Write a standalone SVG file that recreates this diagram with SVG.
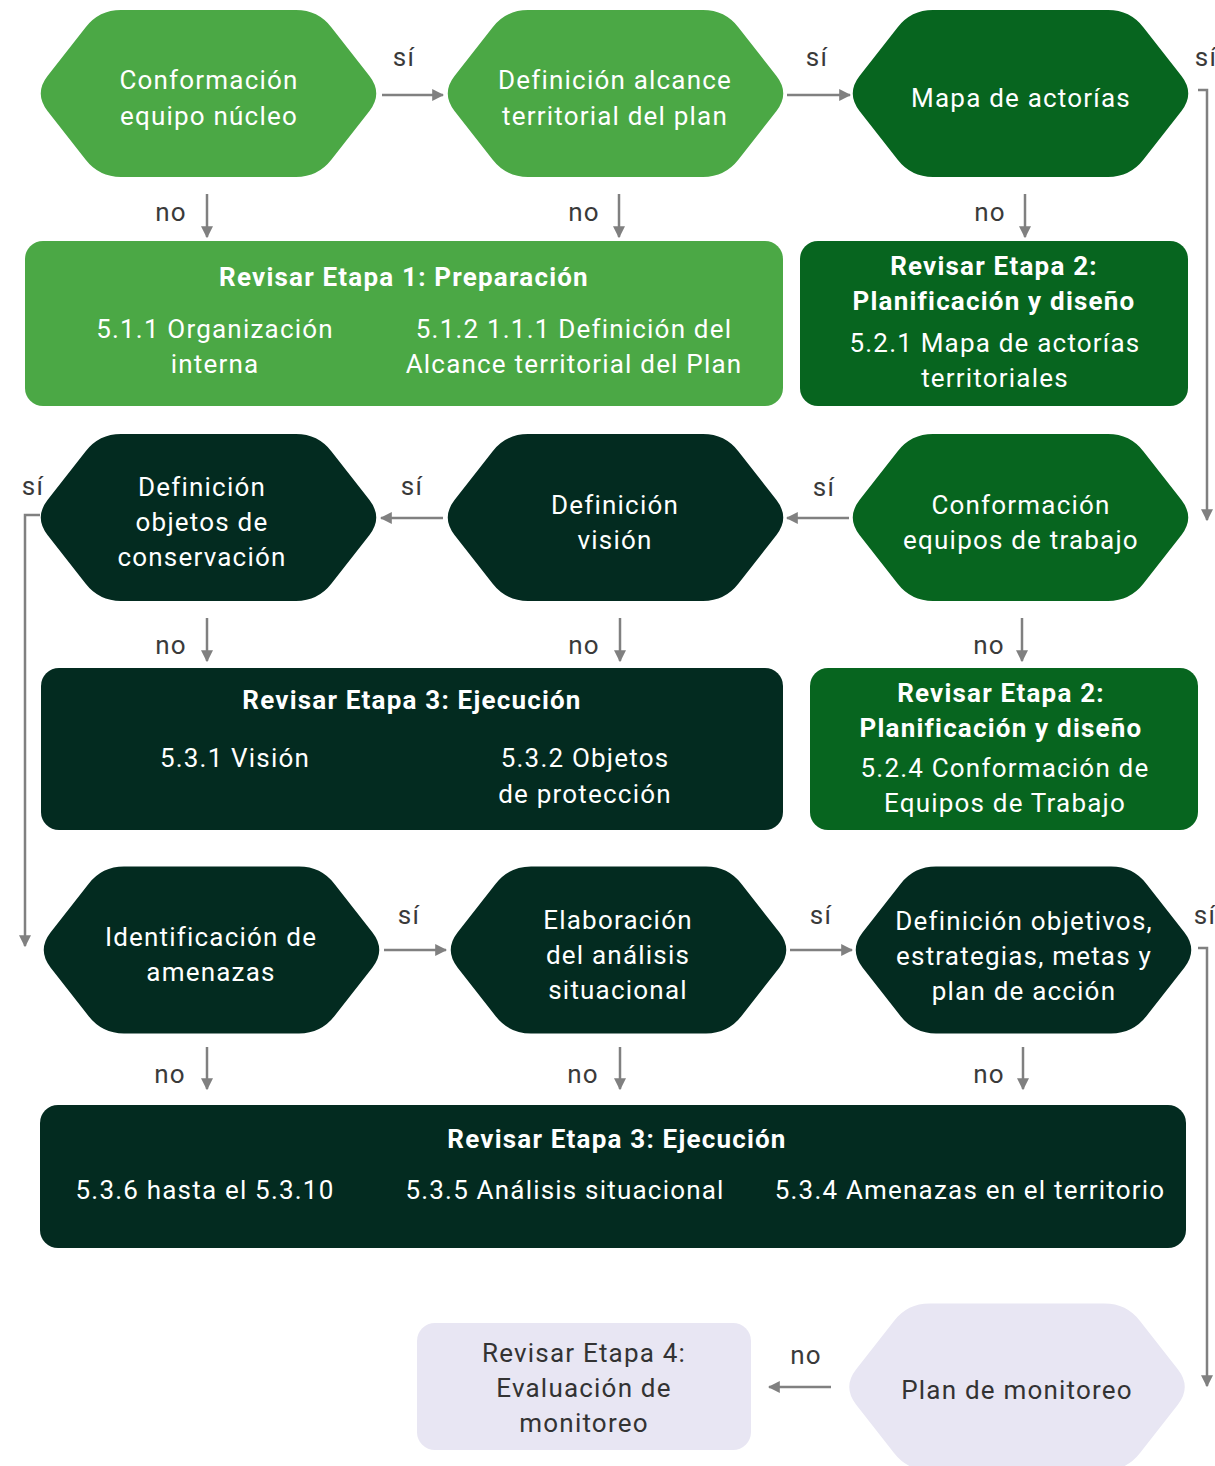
<svg xmlns="http://www.w3.org/2000/svg" xmlns:xlink="http://www.w3.org/1999/xlink" width="1215" height="1466" viewBox="0 0 1215 1466">
  <style>
    text { font-family: Roboto, "Liberation Sans", sans-serif; font-size: 26px; text-anchor: middle; letter-spacing: 1.2px; }
    .w { fill: #ffffff; }
    .b { font-weight: bold; letter-spacing: 1.2px; }
    .lbl { fill: #3a3a3a; letter-spacing: 0.5px; }
    .dk { fill: #333333; }
    .light { fill: #4BA845; }
    .mid { fill: #07651F; }
    .deep { fill: #032B20; }
    .lav { fill: #E8E6F3; }
    .conn { fill: none; stroke: #808080; stroke-width: 2.5; marker-end: url(#head); }
  </style>
  <defs>
    <!-- rounded hexagon centred on the origin -->
    <path id="hex" d="M -161,-17.4 L -123,-66.1 Q -109.5,-83.5 -87.5,-83.5 L 87.5,-83.5 Q 109.5,-83.5 123,-66.1 L 161,-17.4 Q 174.5,0 161,17.4 L 123,66.1 Q 109.5,83.5 87.5,83.5 L -87.5,83.5 Q -109.5,83.5 -123,66.1 L -161,17.4 Q -174.5,0 -161,-17.4 Z"/>
    <marker id="head" viewBox="0 0 10 10" refX="9" refY="5" markerWidth="12" markerHeight="12" markerUnits="userSpaceOnUse" orient="auto">
      <path d="M0,0 L10,5 L0,10 Z" fill="#808080"/>
    </marker>
  </defs>

  <!-- connectors -->
  <g id="connectors">
    <path class="conn" d="M382,95 H443"/>
    <path class="conn" d="M787,95 H850"/>
    <path class="conn" d="M207,194 V237"/>
    <path class="conn" d="M619,194 V237"/>
    <path class="conn" d="M1025,194 V237"/>
    <path class="conn" d="M1198,90 H1207 V520"/>
    <path class="conn" d="M849,518 H787"/>
    <path class="conn" d="M443,518 H381"/>
    <path class="conn" d="M40,515 H25 V946"/>
    <path class="conn" d="M207,618 V661"/>
    <path class="conn" d="M620,618 V661"/>
    <path class="conn" d="M1022,618 V661"/>
    <path class="conn" d="M384,950 H446"/>
    <path class="conn" d="M790,950 H852"/>
    <path class="conn" d="M1198,948 H1207 V1386"/>
    <path class="conn" d="M207,1047 V1089"/>
    <path class="conn" d="M620,1047 V1089"/>
    <path class="conn" d="M1023,1047 V1089"/>
    <path class="conn" d="M831,1387 H769"/>
    <g class="lbl">
      <text x="404" y="66">sí</text>
      <text x="817" y="66">sí</text>
      <text x="1206" y="66">sí</text>
      <text x="171" y="221">no</text>
      <text x="584" y="221">no</text>
      <text x="990" y="221">no</text>
      <text x="33" y="495">sí</text>
      <text x="412" y="495">sí</text>
      <text x="824" y="496">sí</text>
      <text x="171" y="654">no</text>
      <text x="584" y="654">no</text>
      <text x="989" y="654">no</text>
      <text x="409" y="924">sí</text>
      <text x="821" y="924">sí</text>
      <text x="1205" y="924">sí</text>
      <text x="170" y="1083">no</text>
      <text x="583" y="1083">no</text>
      <text x="989" y="1083">no</text>
      <text x="806" y="1364">no</text>
    </g>
  </g>

  <!-- row 1 -->
  <g id="conformacion-equipo-nucleo">
    <use xlink:href="#hex" href="#hex" x="208.5" y="93.5" class="light"/>
    <text class="w" x="209" y="89">Conformación</text>
    <text class="w" x="209" y="125">equipo núcleo</text>
  </g>
  <g id="definicion-alcance">
    <use xlink:href="#hex" href="#hex" x="615.5" y="93.5" class="light"/>
    <text class="w" x="615" y="89">Definición alcance</text>
    <text class="w" x="615" y="125">territorial del plan</text>
  </g>
  <g id="mapa-actorias">
    <use xlink:href="#hex" href="#hex" x="1020.5" y="93.5" class="mid"/>
    <text class="w" x="1021" y="107">Mapa de actorías</text>
  </g>

  <g id="revisar-etapa-1">
    <rect x="25" y="241" width="758" height="165" rx="18" class="light"/>
    <text class="w b" x="404" y="286">Revisar Etapa 1: Preparación</text>
    <text class="w" x="215" y="338">5.1.1 Organización</text>
    <text class="w" x="215" y="373">interna</text>
    <text class="w" x="574" y="338">5.1.2 1.1.1 Definición del</text>
    <text class="w" x="574" y="373">Alcance territorial del Plan</text>
  </g>
  <g id="revisar-etapa-2-mapa">
    <rect x="800" y="241" width="388" height="165" rx="18" class="mid"/>
    <text class="w b" x="994" y="275">Revisar Etapa 2:</text>
    <text class="w b" x="994" y="310">Planificación y diseño</text>
    <text class="w" x="995" y="352">5.2.1 Mapa de actorías</text>
    <text class="w" x="995" y="387">territoriales</text>
  </g>

  <!-- row 2 -->
  <g id="definicion-objetos">
    <use xlink:href="#hex" href="#hex" x="208.5" y="517.5" class="deep"/>
    <text class="w" x="202" y="496">Definición</text>
    <text class="w" x="202" y="531">objetos de</text>
    <text class="w" x="202" y="566">conservación</text>
  </g>
  <g id="definicion-vision">
    <use xlink:href="#hex" href="#hex" x="615.5" y="517.5" class="deep"/>
    <text class="w" x="615" y="514">Definición</text>
    <text class="w" x="615" y="549">visión</text>
  </g>
  <g id="conformacion-equipos-trabajo">
    <use xlink:href="#hex" href="#hex" x="1020.5" y="517.5" class="mid"/>
    <text class="w" x="1021" y="514">Conformación</text>
    <text class="w" x="1021" y="549">equipos de trabajo</text>
  </g>

  <g id="revisar-etapa-3-vision">
    <rect x="41" y="668" width="742" height="162" rx="18" class="deep"/>
    <text class="w b" x="412" y="709">Revisar Etapa 3: Ejecución</text>
    <text class="w" x="235" y="767">5.3.1 Visión</text>
    <text class="w" x="585" y="767">5.3.2 Objetos</text>
    <text class="w" x="585" y="803">de protección</text>
  </g>
  <g id="revisar-etapa-2-equipos">
    <rect x="810" y="668" width="388" height="162" rx="18" class="mid"/>
    <text class="w b" x="1001" y="702">Revisar Etapa 2:</text>
    <text class="w b" x="1001" y="737">Planificación y diseño</text>
    <text class="w" x="1005" y="777">5.2.4 Conformación de</text>
    <text class="w" x="1005" y="812">Equipos de Trabajo</text>
  </g>

  <!-- row 3 -->
  <g id="identificacion-amenazas">
    <use xlink:href="#hex" href="#hex" x="211.5" y="950" class="deep"/>
    <text class="w" x="211" y="946">Identificación de</text>
    <text class="w" x="211" y="981">amenazas</text>
  </g>
  <g id="analisis-situacional">
    <use xlink:href="#hex" href="#hex" x="618.5" y="950" class="deep"/>
    <text class="w" x="618" y="929">Elaboración</text>
    <text class="w" x="618" y="964">del análisis</text>
    <text class="w" x="618" y="999">situacional</text>
  </g>
  <g id="definicion-objetivos">
    <use xlink:href="#hex" href="#hex" x="1023.5" y="950" class="deep"/>
    <text class="w" x="1024" y="930">Definición objetivos,</text>
    <text class="w" x="1024" y="965">estrategias, metas y</text>
    <text class="w" x="1024" y="1000">plan de acción</text>
  </g>

  <g id="revisar-etapa-3-amenazas">
    <rect x="40" y="1105" width="1146" height="143" rx="18" class="deep"/>
    <text class="w b" x="617" y="1148">Revisar Etapa 3: Ejecución</text>
    <text class="w" x="205" y="1199">5.3.6 hasta el 5.3.10</text>
    <text class="w" x="565" y="1199">5.3.5 Análisis situacional</text>
    <text class="w" x="970" y="1199">5.3.4 Amenazas en el territorio</text>
  </g>

  <!-- bottom row -->
  <g id="plan-monitoreo">
    <use xlink:href="#hex" href="#hex" x="1017" y="1387" class="lav"/>
    <text class="dk" x="1017" y="1399">Plan de monitoreo</text>
  </g>
  <g id="revisar-etapa-4">
    <rect x="417" y="1323" width="334" height="127" rx="18" class="lav"/>
    <text class="dk" x="584" y="1362">Revisar Etapa 4:</text>
    <text class="dk" x="584" y="1397">Evaluación de</text>
    <text class="dk" x="584" y="1432">monitoreo</text>
  </g>
</svg>
